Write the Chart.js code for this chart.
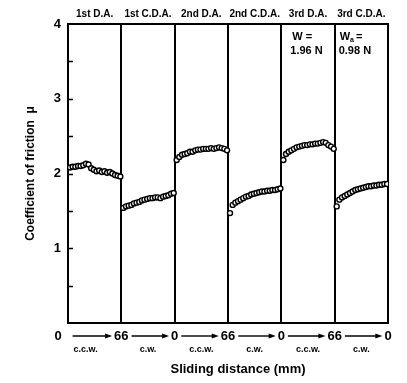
<!DOCTYPE html>
<html>
<head>
<meta charset="utf-8">
<script src="https://cdn.jsdelivr.net/npm/chart.js@4/dist/chart.umd.min.js"></script>
<style>
  body { margin: 0; background: #fff; }
  #wrap { width: 407px; height: 383px; }
</style>
</head>
<body>
<div id="wrap"><canvas id="frictionChart" width="407" height="383"></canvas></div>
<script>
// run names shown above each panel
const segmentNames = ['1st D.A.', '1st C.D.A.', '2nd D.A.', '2nd C.D.A.', '3rd D.A.', '3rd C.D.A.'];
// sliding direction under each panel
const directions = ['c.c.w.', 'c.w.', 'c.c.w.', 'c.w.', 'c.c.w.', 'c.w.'];
// distance labels at panel boundaries (mm)
const distanceLabels = ['0', '66', '0', '66', '0', '66', '0'];
// sampling positions inside one pass (mm)
const distance = [2.5, 5.8, 9.1, 12.4, 15.6, 18.9, 22.2, 25.5, 28.7, 32.0, 35.3, 38.6, 41.8, 45.1, 48.4, 51.7, 54.9, 58.2, 61.5, 64.8];

// coefficient of friction per pass
const mu1 = [2.08, 2.09, 2.09, 2.10, 2.10, 2.11, 2.13, 2.12, 2.07, 2.05, 2.03, 2.04, 2.02, 2.03, 2.01, 2.02, 2.00, 1.98, 1.97, 1.96];
const mu2 = [1.54, 1.56, 1.57, 1.58, 1.60, 1.61, 1.62, 1.64, 1.65, 1.66, 1.67, 1.67, 1.68, 1.68, 1.67, 1.69, 1.70, 1.71, 1.73, 1.74];
const mu3 = [2.18, 2.22, 2.25, 2.26, 2.27, 2.29, 2.29, 2.31, 2.32, 2.32, 2.33, 2.33, 2.33, 2.34, 2.33, 2.34, 2.35, 2.34, 2.33, 2.31];
const mu4 = [1.47, 1.58, 1.61, 1.63, 1.65, 1.67, 1.69, 1.70, 1.72, 1.73, 1.74, 1.75, 1.76, 1.76, 1.77, 1.77, 1.78, 1.78, 1.79, 1.80];
const mu5 = [2.18, 2.26, 2.29, 2.31, 2.33, 2.35, 2.36, 2.37, 2.38, 2.38, 2.39, 2.39, 2.40, 2.40, 2.41, 2.42, 2.41, 2.38, 2.36, 2.33];
const mu6 = [1.56, 1.65, 1.68, 1.70, 1.72, 1.74, 1.76, 1.78, 1.79, 1.80, 1.81, 1.82, 1.83, 1.83, 1.84, 1.84, 1.85, 1.85, 1.86, 1.86];

const passLength = 66;
const FONT = '"Liberation Sans", Arial, sans-serif';

const points = [];
[mu1, mu2, mu3, mu4, mu5, mu6].forEach((series, seg) => {
    series.forEach((v, i) => {
        points.push({ x: seg + distance[i] / passLength, y: v });
    });
});

// extra labels, arrows and inward ticks
const decorPlugin = {
    id: 'decor',
    afterDraw(chart) {
        const ctx = chart.ctx;
        const xs = chart.scales.x;
        const ys = chart.scales.y;
        const area = chart.chartArea;
        ctx.save();
        ctx.strokeStyle = '#000';
        ctx.fillStyle = '#000';

        // inward tick marks on the y axis
        ctx.lineWidth = 1.5;
        for (let v = 0.5; v < 4; v += 0.5) {
            const y = Math.round(ys.getPixelForValue(v)) + 0.5;
            ctx.beginPath();
            ctx.moveTo(area.left, y);
            ctx.lineTo(area.left + 5, y);
            ctx.stroke();
        }

        // distance labels with arrows
        const rowY = area.bottom + 13;
        ctx.font = 'bold 13px ' + FONT;
        ctx.textAlign = 'center';
        ctx.textBaseline = 'middle';
        const xPos = distanceLabels.map((_, i) => xs.getPixelForValue(i) - (i === 0 ? 10 : 0));
        distanceLabels.forEach((t, i) => ctx.fillText(t, xPos[i], rowY));

        ctx.lineWidth = 1.4;
        for (let i = 0; i < distanceLabels.length - 1; i++) {
            const w0 = ctx.measureText(distanceLabels[i]).width;
            const w1 = ctx.measureText(distanceLabels[i + 1]).width;
            const x1 = i === 0 ? xPos[i] + w0 / 2 + 11 : xPos[i] + w0 / 2 + 3;
            const x2 = xPos[i + 1] - w1 / 2 - 2;
            ctx.beginPath();
            ctx.moveTo(x1, rowY);
            ctx.lineTo(x2 - 6, rowY);
            ctx.stroke();
            ctx.beginPath();
            ctx.moveTo(x2, rowY);
            ctx.lineTo(x2 - 7, rowY - 2.6);
            ctx.lineTo(x2 - 7, rowY + 2.6);
            ctx.closePath();
            ctx.fill();
        }

        // direction under each arrow
        ctx.font = 'bold 9px ' + FONT;
        directions.forEach((d, i) => {
            let x = xs.getPixelForValue(i + 0.5);
            if (i === 0) x -= 9;
            ctx.fillText(d, x, rowY + 14);
        });

        // axis title
        ctx.font = 'bold 13px ' + FONT;
        ctx.fillText('Sliding distance (mm)', (area.left + area.right) / 2 + 10, 369);

        // load notes in the last two panels
        ctx.font = 'bold 11px ' + FONT;
        ctx.textAlign = 'left';
        const p5 = xs.getPixelForValue(4);
        const p6 = xs.getPixelForValue(5);
        ctx.fillText('W =', p5 + 11, area.top + 13);
        ctx.fillText('1.96 N', p5 + 9, area.top + 27);
        ctx.fillText('W', p6 + 5, area.top + 13);
        let wx = p6 + 5 + ctx.measureText('W').width;
        ctx.font = 'bold 7px ' + FONT;
        ctx.fillText('a', wx, area.top + 16);
        ctx.font = 'bold 11px ' + FONT;
        ctx.fillText('=', wx + 6, area.top + 13);
        ctx.fillText('0.98 N', p6 + 4, area.top + 27);
        ctx.restore();
    }
};

new Chart(document.getElementById('frictionChart'), {
    type: 'scatter',
    data: {
        datasets: [{
            data: points,
            pointStyle: 'circle',
            pointRadius: 2.5,
            pointBorderWidth: 1.4,
            borderColor: '#000',
            backgroundColor: '#fff',
            showLine: false
        }]
    },
    options: {
        responsive: false,
        animation: false,
        layout: { padding: { left: 0, right: 19, top: 0, bottom: 0 } },
        plugins: {
            legend: { display: false },
            tooltip: { enabled: false }
        },
        scales: {
            x: {
                type: 'linear',
                min: 0,
                max: 6,
                position: 'bottom',
                ticks: { display: false, stepSize: 1 },
                grid: { color: '#000', lineWidth: 2, drawTicks: false },
                border: { display: true, color: '#000', width: 2 },
                afterFit(scale) { scale.height = 60; }
            },
            x2: {
                type: 'category',
                labels: segmentNames,
                position: 'top',
                offset: true,
                grid: { display: false, drawTicks: false },
                border: { display: true, color: '#000', width: 2 },
                ticks: {
                    color: '#000',
                    font: { family: FONT, size: 10, weight: 'bold' },
                    padding: 4,
                    maxRotation: 0,
                    autoSkip: false
                },
                afterFit(scale) { scale.height = 24; }
            },
            y: {
                min: 0,
                max: 4,
                ticks: {
                    stepSize: 0.5,
                    color: '#000',
                    padding: 7,
                    font: { family: FONT, size: 13, weight: 'bold' },
                    callback: v => (Number.isInteger(v) && v !== 0) ? v : ''
                },
                grid: { display: false, drawTicks: false },
                border: { display: true, color: '#000', width: 2 },
                title: {
                    display: true,
                    text: 'Coefficient of friction  \u03bc',
                    color: '#000',
                    font: { family: FONT, size: 12, weight: 'bold' },
                    padding: { top: 23, bottom: 0 }
                },
                afterFit(scale) { scale.width = 68; }
            }
        }
    },
    plugins: [decorPlugin]
});
</script>
</body>
</html>
